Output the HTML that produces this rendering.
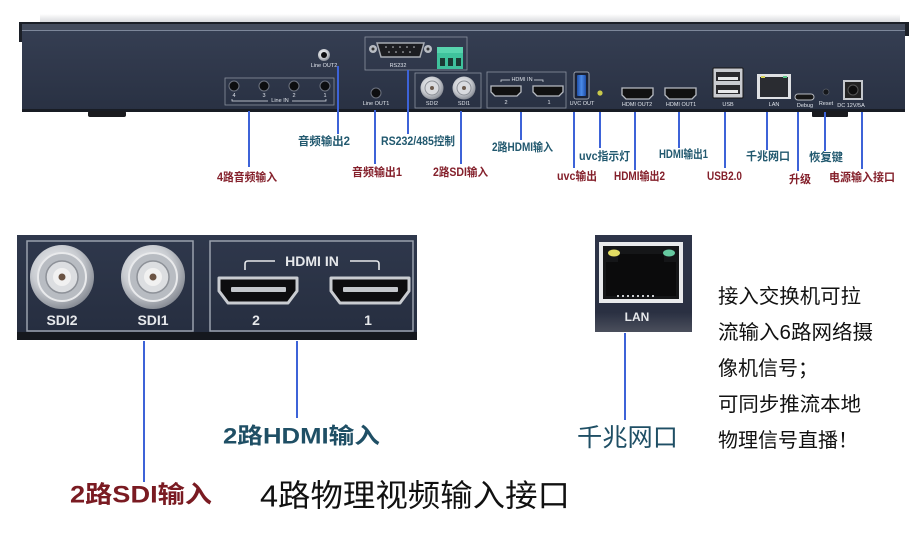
<!DOCTYPE html>
<html><head><meta charset="utf-8">
<style>
html,body{margin:0;padding:0;background:#fff;}
svg{display:block;}
text{font-family:"Liberation Sans","Noto Sans CJK SC",sans-serif;}
.s{font-size:5.5px;fill:#dfe3ea;text-anchor:middle;dominant-baseline:central;}
.r{fill:#84202b;font-weight:bold;font-size:11.5px;dominant-baseline:central;}
.g{fill:#22596f;font-weight:bold;font-size:11.5px;dominant-baseline:central;}
.ln{stroke:#3d63d8;stroke-width:2;}
</style></head><body>
<svg width="920" height="537" viewBox="0 0 920 537" xmlns="http://www.w3.org/2000/svg">
<defs>
 <linearGradient id="body" x1="0" y1="0" x2="0" y2="1">
  <stop offset="0" stop-color="#353e52"/>
  <stop offset="1" stop-color="#293143"/>
 </linearGradient>
 <linearGradient id="panel" x1="0" y1="0" x2="0" y2="1">
  <stop offset="0" stop-color="#2f384c"/>
  <stop offset="1" stop-color="#262e40"/>
 </linearGradient>
 <linearGradient id="lan" x1="0" y1="0" x2="0" y2="1">
  <stop offset="0" stop-color="#2e3549"/>
  <stop offset="0.8" stop-color="#2a3042"/>
  <stop offset="1" stop-color="#4b4f5c"/>
 </linearGradient>
 <linearGradient id="topfade" x1="0" y1="0" x2="0" y2="1">
  <stop offset="0" stop-color="#ffffff"/>
  <stop offset="1" stop-color="#d9dadd"/>
 </linearGradient>
 <radialGradient id="silver" cx="0.42" cy="0.38" r="0.7">
  <stop offset="0" stop-color="#f4f5f7"/>
  <stop offset="0.55" stop-color="#c9ccd1"/>
  <stop offset="1" stop-color="#767b85"/>
 </radialGradient>
 <linearGradient id="usb3" x1="0" y1="0" x2="1" y2="0">
  <stop offset="0" stop-color="#1f4fa8"/>
  <stop offset="0.5" stop-color="#4a8ae8"/>
  <stop offset="1" stop-color="#1f4fa8"/>
 </linearGradient>
</defs>

<!-- ============ TOP DEVICE ============ -->
<rect x="40" y="14" width="860" height="8" fill="url(#topfade)"/>
<rect x="19" y="22" width="890" height="2" fill="#1c2028"/>
<rect x="19" y="24" width="890" height="6" fill="#434b5c"/>
<rect x="19" y="30" width="890" height="1" fill="#7d879a"/>
<rect x="19" y="22" width="3" height="20" fill="#1c2028"/>
<rect x="905" y="22" width="4" height="14" fill="#1c2028"/>
<rect x="22" y="31" width="883" height="79" fill="url(#body)"/>
<rect x="22" y="109" width="883" height="3" fill="#181c24"/>
<rect x="88" y="111" width="38" height="6" rx="2" fill="#1a1b1f"/>
<rect x="812" y="111" width="36" height="6" rx="1" fill="#1a1b1f"/>

<!-- Line OUT2 -->
<circle cx="324" cy="55" r="6" fill="url(#silver)"/>
<circle cx="324" cy="55" r="3" fill="#0e0e10"/>
<text class="s" x="324" y="66">Line OUT2</text>

<!-- Line IN -->
<rect x="225" y="78" width="109" height="27" fill="none" stroke="#8a919e" stroke-width="0.8"/>
<g fill="#0d0e10" stroke="#6d7380" stroke-width="1">
<circle cx="234" cy="86" r="5"/><circle cx="264" cy="86" r="5"/><circle cx="294" cy="86" r="5"/><circle cx="325" cy="86" r="5"/>
</g>
<text class="s" x="234" y="96">4</text><text class="s" x="264" y="96">3</text><text class="s" x="294" y="96">2</text><text class="s" x="325" y="96">1</text>
<path d="M232 99 v2 h36 M292 101 h34 v-2" stroke="#dfe3ea" stroke-width="0.7" fill="none"/>
<text class="s" x="280" y="101">Line IN</text>

<!-- Line OUT1 -->
<circle cx="376" cy="93" r="5" fill="#0d0e10" stroke="#6d7380" stroke-width="1"/>
<text class="s" x="376" y="104">Line OUT1</text>

<!-- RS232 -->
<rect x="365" y="37" width="102" height="33" fill="none" stroke="#8a919e" stroke-width="0.8"/>
<circle cx="373" cy="49" r="4" fill="#b8bcc3"/><circle cx="373" cy="49" r="1.5" fill="#333"/>
<circle cx="428" cy="49" r="4" fill="#b8bcc3"/><circle cx="428" cy="49" r="1.5" fill="#333"/>
<path d="M377 43 h47 l-4 14 h-39 z" fill="#1c1d21" stroke="#a7abb3" stroke-width="1.5"/>
<g fill="#c8cbd0"><circle cx="386" cy="47" r="0.8"/><circle cx="393" cy="47" r="0.8"/><circle cx="400" cy="47" r="0.8"/><circle cx="407" cy="47" r="0.8"/><circle cx="414" cy="47" r="0.8"/><circle cx="389" cy="52" r="0.8"/><circle cx="396" cy="52" r="0.8"/><circle cx="403" cy="52" r="0.8"/><circle cx="410" cy="52" r="0.8"/></g>
<text class="s" x="398" y="66">RS232</text>
<rect x="437" y="47" width="26" height="22" fill="#3fc29c"/>
<rect x="437" y="47" width="26" height="6" fill="#58d4ae"/>
<g fill="#1b3b33"><rect x="440" y="58" width="5" height="8"/><rect x="448" y="58" width="5" height="8"/><rect x="456" y="58" width="5" height="8"/></g>

<!-- SDI small -->
<rect x="415" y="73" width="66" height="35" fill="none" stroke="#8a919e" stroke-width="0.8"/>
<circle cx="432" cy="88" r="11.5" fill="url(#silver)"/><circle cx="432" cy="88" r="7" fill="#d9dbdf" stroke="#8c9097" stroke-width="1"/><circle cx="432" cy="88" r="2" fill="#6b5a4d"/>
<circle cx="464" cy="88" r="11.5" fill="url(#silver)"/><circle cx="464" cy="88" r="7" fill="#d9dbdf" stroke="#8c9097" stroke-width="1"/><circle cx="464" cy="88" r="2" fill="#6b5a4d"/>
<text class="s" x="432" y="104">SDI2</text><text class="s" x="464" y="104">SDI1</text>

<!-- HDMI IN small -->
<rect x="487" y="72" width="79" height="36" fill="none" stroke="#8a919e" stroke-width="0.8"/>
<path d="M501 82 v-2 h9 M534 80 h9 v2" stroke="#dfe3ea" stroke-width="0.7" fill="none"/>
<text class="s" x="522" y="80">HDMI IN</text>
<path d="M491 86 h30 v6 l-4 4 h-22 l-4 -4 z" fill="#111" stroke="#b8bcc3" stroke-width="1.3"/>
<path d="M533 86 h30 v6 l-4 4 h-22 l-4 -4 z" fill="#111" stroke="#b8bcc3" stroke-width="1.3"/>
<text class="s" x="506" y="103">2</text><text class="s" x="549" y="103">1</text>

<!-- UVC OUT -->
<rect x="574" y="72" width="15" height="27" rx="2" fill="#1a2236" stroke="#9aa0aa" stroke-width="1"/>
<rect x="577" y="75" width="9" height="21" rx="1" fill="url(#usb3)"/>
<text class="s" x="582" y="104">UVC OUT</text>
<circle cx="600" cy="93" r="2.6" fill="#c9c94b"/>

<!-- HDMI OUT -->
<path d="M622 88 h31 v7 l-4 4 h-23 l-4 -4 z" fill="#111" stroke="#b8bcc3" stroke-width="1.3"/>
<path d="M665 88 h31 v7 l-4 4 h-23 l-4 -4 z" fill="#111" stroke="#b8bcc3" stroke-width="1.3"/>
<text class="s" x="637" y="105">HDMI OUT2</text><text class="s" x="681" y="105">HDMI OUT1</text>

<!-- USB -->
<rect x="713" y="68" width="30" height="30" rx="1" fill="#c9cbd0" stroke="#161616" stroke-width="1"/>
<rect x="716" y="72" width="24" height="9" fill="#2a2a2e"/><rect x="716" y="85" width="24" height="9" fill="#2a2a2e"/>
<rect x="718" y="77" width="20" height="3" fill="#e7e8ea"/><rect x="718" y="90" width="20" height="3" fill="#e7e8ea"/>
<text class="s" x="728" y="105">USB</text>

<!-- LAN small -->
<rect x="757" y="74" width="34" height="25" fill="#dfe1e4"/>
<rect x="760" y="77" width="28" height="20" fill="#2a2c31"/>
<rect x="761" y="76" width="4" height="2" fill="#d8d45a"/><rect x="783" y="76" width="4" height="2" fill="#5bc98a"/>
<text class="s" x="774" y="105">LAN</text>

<!-- Debug / Reset / DC -->
<rect x="795" y="94" width="19" height="6" rx="3" fill="#161616" stroke="#b8bcc3" stroke-width="1"/>
<text class="s" x="805" y="106">Debug</text>
<circle cx="826" cy="92" r="3" fill="#15171b" stroke="#555b66" stroke-width="0.8"/>
<text class="s" x="826" y="104">Reset</text>
<rect x="843" y="80" width="20" height="20" fill="#c4c7cc"/>
<rect x="845" y="82" width="16" height="16" fill="#222"/>
<circle cx="853" cy="90" r="5" fill="#0e0e0e" stroke="#555" stroke-width="1"/>
<text class="s" x="851" y="106">DC 12V/5A</text>

<!-- top connectors -->
<g class="ln">
<line x1="249" y1="111" x2="249" y2="167"/>
<line x1="338" y1="66" x2="338" y2="134"/>
<line x1="375" y1="110" x2="375" y2="164"/>
<line x1="408" y1="70" x2="408" y2="134"/>
<line x1="461" y1="111" x2="461" y2="164"/>
<line x1="521" y1="112" x2="521" y2="140"/>
<line x1="574" y1="112" x2="574" y2="168"/>
<line x1="600" y1="112" x2="600" y2="148"/>
<line x1="635" y1="112" x2="635" y2="170"/>
<line x1="679" y1="112" x2="679" y2="148"/>
<line x1="725" y1="112" x2="725" y2="168"/>
<line x1="767" y1="112" x2="767" y2="150"/>
<line x1="798" y1="112" x2="798" y2="171"/>
<line x1="825" y1="112" x2="825" y2="151"/>
<line x1="862" y1="112" x2="862" y2="169"/>
</g>

<!-- top labels -->
<text class="r" x="217" y="178" textLength="60" lengthAdjust="spacingAndGlyphs">4路音频输入</text>
<text class="g" x="298" y="142" textLength="52" lengthAdjust="spacingAndGlyphs">音频输出2</text>
<text class="r" x="352" y="173" textLength="50" lengthAdjust="spacingAndGlyphs">音频输出1</text>
<text class="g" x="381" y="142" textLength="74" lengthAdjust="spacingAndGlyphs">RS232/485控制</text>
<text class="r" x="433" y="173" textLength="55" lengthAdjust="spacingAndGlyphs">2路SDI输入</text>
<text class="g" x="492" y="148" textLength="61" lengthAdjust="spacingAndGlyphs">2路HDMI输入</text>
<text class="g" x="579" y="157" textLength="51" lengthAdjust="spacingAndGlyphs">uvc指示灯</text>
<text class="r" x="557" y="177" textLength="40" lengthAdjust="spacingAndGlyphs">uvc输出</text>
<text class="r" x="614" y="177" textLength="51" lengthAdjust="spacingAndGlyphs">HDMI输出2</text>
<text class="g" x="659" y="155" textLength="49" lengthAdjust="spacingAndGlyphs">HDMI输出1</text>
<text class="r" x="707" y="177" textLength="35" lengthAdjust="spacingAndGlyphs">USB2.0</text>
<text class="g" x="746" y="157" textLength="44" lengthAdjust="spacingAndGlyphs">千兆网口</text>
<text class="r" x="789" y="180" textLength="22" lengthAdjust="spacingAndGlyphs">升级</text>
<text class="g" x="809" y="158" textLength="34" lengthAdjust="spacingAndGlyphs">恢复键</text>
<text class="r" x="829" y="178" textLength="66" lengthAdjust="spacingAndGlyphs">电源输入接口</text>

<!-- ============ BOTTOM LEFT CROP ============ -->
<rect x="17" y="235" width="400" height="98" fill="url(#panel)"/>
<rect x="17" y="332" width="400" height="8" fill="#15181e"/>
<rect x="27" y="241" width="166" height="90" fill="none" stroke="#9aa1ad" stroke-width="1.5"/>
<rect x="210" y="241" width="203" height="90" fill="none" stroke="#9aa1ad" stroke-width="1.5"/>

<g>
<circle cx="62" cy="277" r="32" fill="url(#silver)"/>
<circle cx="62" cy="277" r="24" fill="#b8bcc2" stroke="#e9eaec" stroke-width="2"/>
<circle cx="62" cy="277" r="16" fill="#dcdee1" stroke="#8d9198" stroke-width="1.5"/>
<circle cx="62" cy="277" r="9" fill="#f1f1f1"/>
<circle cx="62" cy="277" r="3.5" fill="#6b5444"/>
<circle cx="153" cy="277" r="32" fill="url(#silver)"/>
<circle cx="153" cy="277" r="24" fill="#b8bcc2" stroke="#e9eaec" stroke-width="2"/>
<circle cx="153" cy="277" r="16" fill="#dcdee1" stroke="#8d9198" stroke-width="1.5"/>
<circle cx="153" cy="277" r="9" fill="#f1f1f1"/>
<circle cx="153" cy="277" r="3.5" fill="#6b5444"/>
</g>
<text x="62" y="320" fill="#e6e8eb" font-size="14" font-weight="bold" text-anchor="middle" dominant-baseline="central">SDI2</text>
<text x="153" y="320" fill="#e6e8eb" font-size="14" font-weight="bold" text-anchor="middle" dominant-baseline="central">SDI1</text>

<path d="M245 270 v-6 q0 -3 3 -3 h27 M350 261 h26 q3 0 3 3 v6" stroke="#e6e8eb" stroke-width="1.6" fill="none"/>
<text x="312" y="261" fill="#e6e8eb" font-size="14" font-weight="bold" text-anchor="middle" dominant-baseline="central">HDMI IN</text>
<path d="M219 278 h78 v13 l-9 12 h-60 l-9 -12 z" fill="#0d0d0f" stroke="#c9ccd1" stroke-width="3" stroke-linejoin="round"/>
<rect x="231" y="287" width="55" height="5" rx="1" fill="#c4c7cc"/>
<path d="M331 278 h78 v13 l-9 12 h-60 l-9 -12 z" fill="#0d0d0f" stroke="#c9ccd1" stroke-width="3" stroke-linejoin="round"/>
<rect x="343" y="287" width="55" height="5" rx="1" fill="#c4c7cc"/>
<text x="256" y="320" fill="#e6e8eb" font-size="14" font-weight="bold" text-anchor="middle" dominant-baseline="central">2</text>
<text x="368" y="320" fill="#e6e8eb" font-size="14" font-weight="bold" text-anchor="middle" dominant-baseline="central">1</text>

<line class="ln" x1="144" y1="341" x2="144" y2="482" stroke-width="2.5"/>
<line class="ln" x1="297" y1="341" x2="297" y2="418" stroke-width="2.5"/>
<text x="223" y="436" fill="#1f4f65" font-size="22" font-weight="bold" dominant-baseline="central" textLength="157" lengthAdjust="spacingAndGlyphs">2路HDMI输入</text>
<text x="70" y="495" fill="#7a1b22" font-size="24" font-weight="bold" dominant-baseline="central" textLength="142" lengthAdjust="spacingAndGlyphs">2路SDI输入</text>
<text x="260" y="496" fill="#111" font-size="31" dominant-baseline="central" textLength="310" lengthAdjust="spacingAndGlyphs">4路物理视频输入接口</text>

<!-- ============ LAN CROP ============ -->
<rect x="595" y="235" width="97" height="97" fill="url(#lan)"/>
<rect x="601" y="244" width="80" height="57" fill="#151618" stroke="#e9eaec" stroke-width="4"/>
<path d="M606 262 h12 v-8 h46 v8 h12 v34 h-70 z" fill="#0b0b0c"/>
<ellipse cx="614" cy="253" rx="6" ry="3.5" fill="#e2dc63"/>
<ellipse cx="669" cy="253" rx="6" ry="3.5" fill="#66c9a0"/>
<g fill="#c9cbcf"><rect x="617" y="295" width="2" height="2"/><rect x="622" y="295" width="2" height="2"/><rect x="627" y="295" width="2" height="2"/><rect x="632" y="295" width="2" height="2"/><rect x="637" y="295" width="2" height="2"/><rect x="642" y="295" width="2" height="2"/><rect x="647" y="295" width="2" height="2"/><rect x="652" y="295" width="2" height="2"/></g>
<text x="637" y="317" fill="#e6e8eb" font-size="12" font-weight="bold" text-anchor="middle" dominant-baseline="central">LAN</text>
<line class="ln" x1="625" y1="333" x2="625" y2="420" stroke-width="2.5"/>
<text x="577" y="438" fill="#1f4f65" font-size="25" dominant-baseline="central" textLength="101" lengthAdjust="spacingAndGlyphs">千兆网口</text>

<!-- right description -->
<g fill="#111" font-size="20" dominant-baseline="central">
<text x="718" y="297" textLength="143" lengthAdjust="spacingAndGlyphs">接入交换机可拉</text>
<text x="718" y="333" textLength="155" lengthAdjust="spacingAndGlyphs">流输入6路网络摄</text>
<text x="718" y="369">像机信号；</text>
<text x="718" y="405" textLength="143" lengthAdjust="spacingAndGlyphs">可同步推流本地</text>
<text x="718" y="441">物理信号直播！</text>
</g>
</svg>
</body></html>
